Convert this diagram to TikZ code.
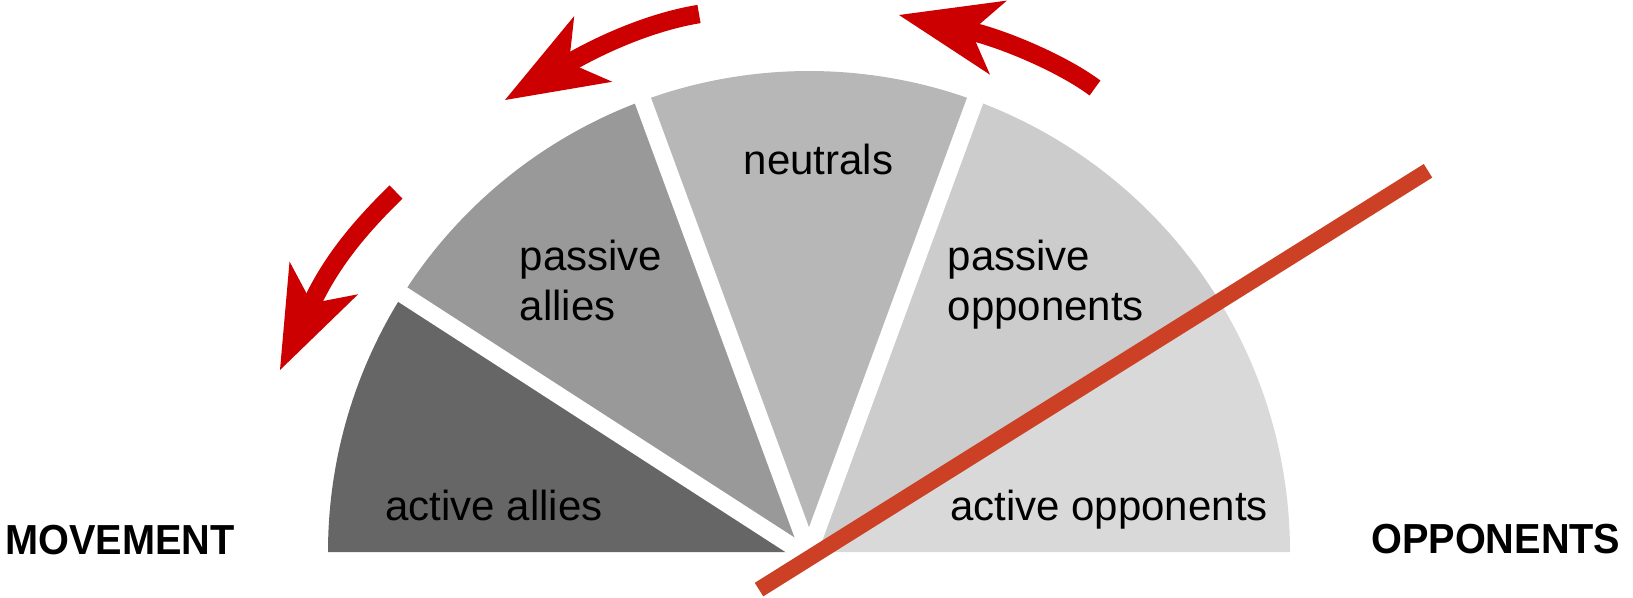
\documentclass[tikz,border=0pt]{standalone}
\usepackage{fontspec}
\setmainfont{Liberation Sans}
\newfontfamily\sidefont[FakeStretch=0.945]{Liberation Sans}
\usetikzlibrary{arrows.meta}
\definecolor{actallies}{HTML}{666666}
\definecolor{pasallies}{HTML}{999999}
\definecolor{neutral}{HTML}{B7B7B7}
\definecolor{pasopp}{HTML}{CCCCCC}
\definecolor{actopp}{HTML}{D9D9D9}
\definecolor{arrowred}{HTML}{CC0000}
\definecolor{linered}{HTML}{CC4125}
\begin{document}
\begin{tikzpicture}[x=1pt,y=-1pt,
  lbl/.style={inner sep=0pt, text=black, font=\fontsize{42}{50}\selectfont},
  sidelbl/.style={inner sep=0pt, text=black, font={\sidefont\bfseries\fontsize{42}{50}\selectfont}},
  sepline/.style={draw=white, line width=17pt},
  movearrow/.style={draw=arrowred, line width=18.5pt,
    -{Stealth[length=102pt,width=76pt,inset=28pt,line width=0pt,fill=arrowred]}},
  cutline/.style={draw=linered, line width=16pt}
]
\useasboundingbox (0,0) rectangle (1633,597);
\def\R{481}
\coordinate (C) at (809,552);
% wedges
\fill[actallies] (C) -- ++(-180:\R) arc[start angle=-180,end angle=-148,radius=\R] -- cycle;
\fill[pasallies] (C) -- ++(-148:\R) arc[start angle=-148,end angle=-110.2,radius=\R] -- cycle;
\fill[neutral] (C) -- ++(-110.2:\R) arc[start angle=-110.2,end angle=-69.8,radius=\R] -- cycle;
\fill[actopp] (C) -- ++(-69.8:\R) arc[start angle=-69.8,end angle=0,radius=\R] -- cycle;
\fill[pasopp] (C) -- ++(-69.8:\R) arc[start angle=-69.8,end angle=-32.2,radius=\R] -- cycle;
% separators
\coordinate (s1a) at (812,559);
\coordinate (s1b) at (360,267);
\draw[sepline] (s1a) -- (s1b);
\draw[sepline] (C) -- ++(-110.2:520) coordinate (s2b);
\draw[sepline] (C) -- ++(-69.8:520) coordinate (s3b);
% labels
\node[lbl, anchor=base] (neutrals) at (818.5,174) {neutrals};
\node[lbl, anchor=base west, align=left] (pallies) at (519.5,320) {passive\\allies};
\node[lbl, anchor=base west, align=left] (popp) at (947.5,320) {passive\\opponents};
\node[lbl, anchor=base] (aallies) at (494,520) {active allies};
\node[lbl, anchor=base west] (aopp) at (950,520) {active opponents};
\node[sidelbl, anchor=base west] (movement) at (5,554) {MOVEMENT};
\node[sidelbl, anchor=base west] (opponents) at (1371,553) {OPPONENTS};
% cut line
\coordinate (r1) at (759,589.6);
\coordinate (r2) at (1428,170.8);
\draw[cutline] (r1) -- (r2);
% movement arrows
\coordinate (a1s) at (396,192);
\coordinate (a1e) at (280,370);
\draw[movearrow] (a1s) .. controls (355,232) and (330,265) .. (a1e);
\coordinate (a2s) at (699,14);
\coordinate (a2e) at (505,100);
\draw[movearrow] (a2s) .. controls (650,22) and (600,45) .. (a2e);
\coordinate (a3s) at (1095,88);
\coordinate (a3e) at (899,15);
\draw[movearrow] (a3s) .. controls (1060,62) and (1000,38) .. (a3e);
\end{tikzpicture}
\end{document}
